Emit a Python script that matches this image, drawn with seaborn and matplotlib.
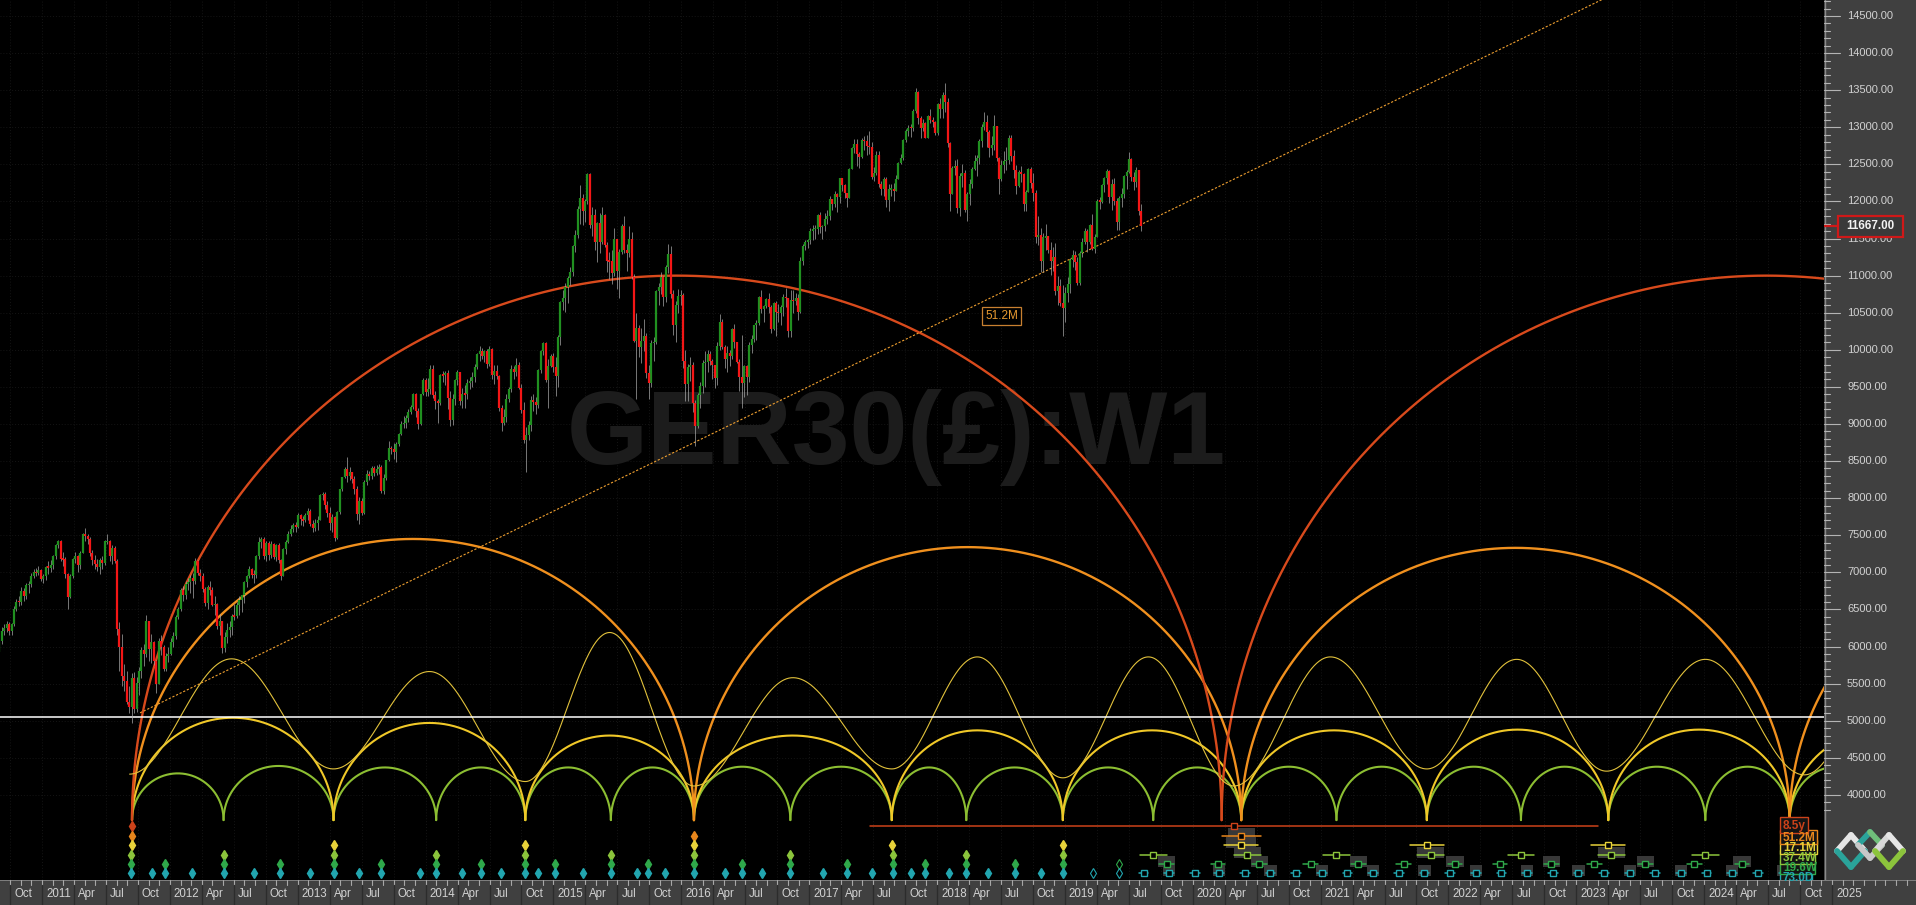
import numpy as np
import pandas as pd
import matplotlib
matplotlib.use("Agg")
import matplotlib.pyplot as plt
import seaborn as sns
from matplotlib.patches import Rectangle

# ---------------- price data (weekly GER30) ----------------
first_week = "2010-08-30"
first_open = 5925
week_close = [
    6080, 6215, 6250, 6299, 6211, 6299, 6511, 6605, 6601, 6754, 6681, 6825, 6849, 6947, 7006, 6990, 7026, 6914,
    6947, 7076, 7063, 7102, 7216, 7371, 7426, 7185, 7178, 6982, 6664, 6946, 7179, 7217, 7095, 7267, 7514, 7492,
    7443, 7264, 7164, 7109, 7070, 7164, 7122, 7419, 7419, 7220, 7325, 7159, 6236, 5997, 5603, 5538, 5246, 5190,
    5574, 5164, 5502, 5675, 5958, 5903, 6346, 5966, 6057, 5800, 5493, 6080, 5987, 5702, 5878, 5898,
    6057, 6143, 6404, 6511, 6766, 6692, 6849, 6864, 6921, 6880, 7157, 6996, 6947, 6775, 6583, 6801, 6762, 6561,
    6579, 6271, 6339, 5978, 6130, 6229, 6263, 6416, 6410, 6557, 6630, 6689, 6865, 6945, 7040, 6971, 6970, 7214,
    7412, 7451, 7216, 7398, 7233, 7380, 7204, 7364, 7163, 6950, 7309, 7405, 7518, 7585, 7636, 7612, 7776,
    7715, 7702, 7769, 7833, 7652, 7593, 7661, 7708, 8044, 8058, 7912, 7795, 7659, 7744, 7459, 7814, 8122, 8279,
    8398, 8305, 8348, 8254, 8127, 7789, 7959, 7806, 8212, 8331, 8300, 8410, 8338, 8391, 8416, 8103, 8275, 8509,
    8675, 8661, 8622, 8725, 8870, 9001, 9010, 9078, 9168, 9225, 9405, 9172, 9006, 9400, 9589, 9435,
    9473, 9742, 9392, 9306, 9289, 9662, 9657, 9692, 9350, 9056, 9342, 9587, 9695, 9315, 9409, 9401, 9556, 9581,
    9630, 9768, 9943, 9987, 9913, 9987, 9815, 10009, 9666, 9720, 9644, 9210, 9010, 9092, 9339, 9470, 9747, 9699,
    9799, 9490, 9195, 8788, 8850, 8988, 9326, 9291, 9252, 9732, 9980, 10087, 9594, 9786, 9922, 9765,
    9648, 10167, 10649, 10694, 10846, 10963, 11050, 11402, 11551, 11901, 12040, 11868, 12001, 12375, 11689, 11811,
    11454, 11710, 11447, 11815, 11413, 11197, 11196, 11040, 11492, 11059, 11316, 11673, 11347, 11309, 11490, 10985,
    10124, 10298, 10038, 10123, 10188, 9688, 9553, 10096, 10104, 10795, 10850, 10988, 10708, 11119, 11293, 10752,
    10340, 10608, 10727, 10743,
    9849, 9545, 9764, 9798, 9286, 8967, 9388, 9513, 9824, 9831, 9950, 9851, 9794, 9622, 10051, 10373, 10039, 9870,
    9952, 9916, 10287, 10103, 9834, 9631, 9558, 9776, 9629, 10066, 10147, 10337, 10367, 10713, 10544, 10588, 10684,
    10573, 10276, 10627, 10511, 10491, 10580, 10711, 10696, 10259, 10668, 10664, 10700, 10513, 11203, 11404, 11450,
    11481,
    11599, 11629, 11630, 11814, 11651, 11666, 11757, 11804, 12027, 11963, 12095, 12064, 12313, 12225, 12109, 12049,
    12438, 12717, 12770, 12638, 12602, 12823, 12816, 12753, 12733, 12325, 12389, 12631, 12240, 12162, 12298, 12014,
    12165, 12168, 12143, 12304, 12519, 12592, 12829, 12955, 12992, 12991, 13218, 13478, 13127, 12994, 13060, 12861,
    13153, 13104, 13072, 12918,
    13320, 13245, 13434, 13340, 12785, 12107, 12452, 12483, 11913, 12346, 12390, 11886, 12097, 12241, 12442, 12540,
    12580, 12820, 13001, 13077, 12938, 12724, 12767, 13011, 12580, 12306, 12496, 12541, 12561, 12860, 12615, 12424,
    12211, 12394, 12364, 11960, 12124, 12431, 12247, 12112, 11524, 11554, 11201, 11519, 11529, 11341, 11193, 11257,
    10788, 10866, 10634, 10559, 10768,
    10887, 11205, 11282, 11181, 10907, 11300, 11458, 11602, 11458, 11686, 11364, 11526, 12010, 11999, 12222, 12315,
    12412, 12060, 12239, 12011, 11727, 12045, 12096, 12340, 12399, 12568, 12323, 12260, 12419, 11872, 11667,
]
week_high = [
    6110, 6260, 6300, 6340, 6330, 6320, 6540, 6640, 6680, 6800, 6790, 6850, 6880, 6990, 7040, 7060, 7080, 7040,
    6980, 7090, 7150, 7170, 7230, 7380, 7440, 7440, 7280, 7210, 6990, 6980, 7190, 7280, 7240, 7290, 7530, 7600,
    7520, 7470, 7300, 7240, 7180, 7190, 7220, 7440, 7520, 7440, 7370, 7360, 7180, 6330, 6170, 5760, 5670, 5470,
    5640, 5660, 5590, 5720, 6000, 6040, 6430, 6350, 6170, 6080, 5820, 6120, 6150, 6020, 5910, 6000,
    6110, 6190, 6420, 6530, 6790, 6820, 6890, 6930, 6960, 6990, 7190, 7170, 7040, 6990, 6800, 6830, 6880, 6800,
    6680, 6590, 6440, 6350, 6200, 6320, 6340, 6440, 6580, 6600, 6680, 6700, 6890, 6960, 7080, 7060, 7030, 7240,
    7480, 7480, 7480, 7420, 7420, 7420, 7400, 7380, 7390, 7180, 7330, 7440, 7560, 7640, 7670, 7680, 7800,
    7780, 7760, 7800, 7870, 7860, 7700, 7720, 7760, 8060, 8080, 8080, 7960, 7880, 7780, 7760, 7830, 8130, 8290,
    8420, 8560, 8420, 8350, 8300, 8160, 8010, 8000, 8240, 8380, 8360, 8440, 8440, 8450, 8460, 8450, 8330, 8520,
    8770, 8700, 8740, 8760, 8880, 9040, 9110, 9120, 9200, 9250, 9420, 9420, 9220, 9410, 9620, 9620,
    9620, 9790, 9800, 9440, 9340, 9680, 9720, 9720, 9730, 9450, 9400, 9600, 9730, 9700, 9480, 9530, 9600, 9640,
    9700, 9810, 9960, 10050, 10020, 10000, 10010, 10050, 10030, 9790, 9800, 9660, 9250, 9200, 9400, 9500, 9800, 9780,
    9890, 9840, 9540, 9300, 8960, 9040, 9380, 9400, 9370, 9740, 10000, 10100, 10100, 9870, 9950, 9960,
    9900, 10200, 10660, 10800, 10900, 11000, 11120, 11410, 11610, 11940, 12220, 12100, 12030, 12390, 12380, 11920,
    11900, 11720, 11850, 11920, 11830, 11460, 11320, 11340, 11640, 11500, 11360, 11700, 11810, 11420, 11670, 11590,
    11020, 10490, 10340, 10300, 10420, 10220, 9800, 10130, 10170, 10810, 10900, 11050, 11000, 11140, 11420, 11400,
    10800, 10660, 10820, 10800,
    10760, 10000, 9810, 9900, 9830, 9320, 9420, 9560, 9860, 9990, 10000, 9990, 9880, 9800, 10100, 10480, 10420, 10060,
    10050, 10000, 10300, 10350, 10110, 9870, 10200, 9800, 9790, 10100, 10200, 10340, 10400, 10720, 10800, 10600, 10700,
    10760, 10600, 10650, 10660, 10620, 10600, 10750, 10830, 10700, 10800, 10800, 10760, 10750, 11250, 11430, 11480,
    11500,
    11640, 11680, 11680, 11830, 11860, 11680, 11840, 11880, 12080, 12030, 12140, 12120, 12320, 12320, 12240, 12120,
    12450, 12740, 12840, 12840, 12660, 12860, 12880, 12890, 12950, 12800, 12470, 12680, 12680, 12280, 12330, 12330,
    12240, 12240, 12250, 12360, 12530, 12640, 12840, 12980, 13030, 13040, 13240, 13530, 13490, 13150, 13110, 13070,
    13170, 13250, 13140, 13080,
    13330, 13390, 13480, 13600, 13390, 12800, 12480, 12560, 12570, 12390, 12500, 12420, 12130, 12300, 12460, 12620,
    12620, 12840, 13040, 13200, 13170, 12960, 12880, 13170, 13020, 12600, 12560, 12680, 12740, 12890, 12900, 12700,
    12490, 12430, 12480, 12380, 12160, 12450, 12460, 12390, 12150, 11800, 11640, 11580, 11700, 11540, 11460, 11380,
    11440, 10990, 10960, 10880, 10840,
    10980, 11240, 11340, 11330, 11250, 11330, 11510, 11640, 11630, 11700, 11830, 11560, 12030, 12060, 12240, 12330,
    12440, 12420, 12300, 12310, 12050, 12070, 12180, 12360, 12420, 12660, 12580, 12400, 12470, 12430, 11960,
]
week_low = [
    5910, 6040, 6160, 6200, 6160, 6150, 6280, 6480, 6540, 6560, 6610, 6640, 6720, 6800, 6920, 6950, 6970, 6880,
    6860, 6900, 6980, 7000, 7050, 7180, 7330, 7150, 7080, 6930, 6510, 6650, 6920, 7120, 7000, 7050, 7260, 7420,
    7380, 7220, 7100, 7050, 7020, 6980, 7040, 7100, 7380, 7150, 7110, 7120, 6150, 5670, 5470, 5400, 5220, 5100,
    4965, 5100, 5120, 5340, 5570, 5740, 5860, 5810, 5780, 5750, 5370, 5500, 5890, 5670, 5670, 5790,
    5880, 5990, 6100, 6370, 6480, 6620, 6640, 6760, 6720, 6650, 6840, 6960, 6880, 6730, 6540, 6510, 6700, 6540,
    6430, 6230, 6160, 5910, 5920, 6050, 6130, 6150, 6360, 6380, 6420, 6460, 6590, 6800, 6920, 6930, 6850, 6930,
    7180, 7330, 7180, 7150, 7160, 7200, 7180, 7150, 7120, 6900, 6950, 7250, 7390, 7490, 7550, 7540, 7600,
    7640, 7630, 7680, 7700, 7620, 7550, 7560, 7570, 7700, 7980, 7860, 7750, 7570, 7540, 7420, 7450, 7790, 8100,
    8270, 8220, 8240, 8200, 8050, 7700, 7650, 7770, 7780, 8180, 8240, 8260, 8300, 8310, 8330, 8070, 8060, 8250,
    8500, 8590, 8530, 8490, 8700, 8850, 8940, 8950, 9030, 9140, 9200, 9100, 8930, 8990, 9390, 9380,
    9380, 9400, 9350, 9200, 9010, 9260, 9560, 9530, 9200, 8970, 8980, 9250, 9520, 9260, 9210, 9220, 9340, 9470,
    9500, 9560, 9740, 9850, 9870, 9840, 9760, 9780, 9610, 9540, 9600, 9170, 8900, 8980, 9030, 9290, 9430, 9600,
    9650, 9470, 9150, 8740, 8355, 8790, 8900, 9180, 9130, 9220, 9690, 9930, 9560, 9220, 9770, 9700,
    9380, 9500, 10070, 10530, 10510, 10630, 10880, 11000, 11320, 11510, 11700, 11680, 11720, 11960, 11640, 11540,
    11350, 11180, 11310, 11420, 11380, 11050, 10950, 10890, 11000, 10820, 10700, 11290, 11300, 11060, 11250, 10950,
    10100, 9340, 9900, 9820, 9990, 9620, 9340, 9500, 9850, 10080, 10600, 10750, 10590, 10650, 11030, 10700,
    10200, 10100, 10500, 10600,
    9760, 9310, 9310, 9580, 9160, 8700, 8950, 9210, 9420, 9500, 9700, 9790, 9600, 9480, 9520, 10000, 10010, 9760,
    9700, 9780, 9880, 10030, 9820, 9440, 9220, 9370, 9390, 9570, 9960, 10110, 10130, 10330, 10500, 10380, 10560,
    10500, 10230, 10270, 10180, 10380, 10330, 10450, 10580, 10170, 10170, 10500, 10600, 10400, 10500, 11150, 11350,
    11370,
    11420, 11480, 11500, 11560, 11580, 11490, 11600, 11700, 11750, 11880, 11930, 11860, 11980, 12140, 12050, 11930,
    12090, 12450, 12650, 12480, 12450, 12580, 12690, 12630, 12640, 12300, 12280, 12360, 12190, 12090, 12080, 11930,
    11870, 12080, 12000, 12140, 12300, 12500, 12560, 12800, 12880, 12870, 12950, 13190, 13050, 12850, 12950, 12850,
    12880, 13060, 13000, 12890,
    12900, 13130, 13120, 13200, 12730, 11870, 12100, 12350, 11850, 11800, 12200, 11860, 11730, 11950, 12180, 12430,
    12340, 12500, 12740, 12960, 12730, 12600, 12620, 12700, 12540, 12100, 12280, 12390, 12420, 12500, 12550, 12310,
    12100, 12190, 12260, 11870, 11870, 12130, 12180, 12000, 11440, 11410, 11050, 11050, 11350, 11300, 11010, 11060,
    10740, 10610, 10590, 10180, 10380,
    10640, 10760, 11110, 11080, 10870, 10880, 11250, 11430, 11320, 11420, 11340, 11300, 11540, 11900, 11980, 12130,
    12230, 11980, 11890, 11950, 11620, 11620, 11920, 12050, 12170, 12390, 12280, 12150, 12200, 11820, 11600,
]
last_price = 11667
support_price = 5050

# ---------------- cycle envelopes (decimal years / prices) ----------------
arc_base = 3660
troughs_85y = [2011.704, 2020.226, 2028.750]
peaks_85y = [11000, 11000]
troughs_512m = [2011.704, 2016.099, 2020.379, 2024.669, 2028.940]
peaks_512m = [7450, 7340, 7330, 7330]
troughs_171m = [2011.704, 2013.280, 2014.780, 2016.099, 2017.646, 2018.984, 2020.379, 2021.831, 2023.250,
                2024.669, 2026.090]
peaks_171m = [5040, 4970, 4800, 4800, 4870, 4870, 4870, 4880, 4880, 4870]
troughs_374w = [2011.704, 2012.420, 2013.280, 2014.083, 2014.780, 2015.449, 2016.099, 2016.853, 2017.646,
                2018.229, 2018.984, 2019.691, 2020.379, 2021.124, 2021.831, 2022.567, 2023.250, 2024.009,
                2024.669, 2025.400]
peaks_374w = [4290, 4390, 4370, 4370, 4370, 4370, 4380, 4380, 4370, 4370, 4370, 4370, 4380, 4380, 4380, 4380,
              4380, 4380, 4380]
wave_troughs = [2011.685, 2013.280, 2014.780, 2016.099, 2017.646, 2018.984, 2020.322, 2021.831, 2023.236,
                2024.783, 2026.200]
wave_levels = [4280, 4350, 4180, 4120, 4350, 4230, 4120, 4350, 4320, 4270, 4300]
wave_peaks = [5834, 5663, 6189, 5580, 5860, 5860, 5860, 5827, 5827, 5830]
trend_years = [2011.767, 2016.099]
trend_prices = [5106, 8749]
trend_label = "51.2M"
trend_label_at = (2018.504, 10456)

# ---------------- trough markers ----------------
cycle_names = ["8.5y", "51.2M", "17.1M", "37.4W", "19.6W", "73.0D"]
past_troughs = [
    [2011.704],
    [2011.704, 2016.099],
    [2011.704, 2013.280, 2014.780, 2016.099, 2017.646, 2018.984],
    [2011.694, 2012.420, 2013.280, 2014.083, 2014.780, 2015.449, 2016.099, 2016.853, 2017.656, 2018.229, 2018.984],
    [2011.694, 2011.962, 2012.420, 2012.860, 2013.280, 2013.653, 2014.083, 2014.436, 2014.780, 2015.010, 2015.449,
     2015.736, 2016.099, 2016.471, 2016.853, 2017.293, 2017.656, 2017.904, 2018.229, 2018.611, 2018.984],
    [2011.694, 2011.857, 2011.962, 2012.172, 2012.420, 2012.659, 2012.860, 2013.099, 2013.280, 2013.481, 2013.653,
     2013.959, 2014.083, 2014.283, 2014.436, 2014.589, 2014.780, 2014.876, 2015.010, 2015.229, 2015.449, 2015.650,
     2015.736, 2015.869, 2016.099, 2016.338, 2016.471, 2016.634, 2016.853, 2017.111, 2017.293, 2017.494, 2017.656,
     2017.799, 2017.904, 2018.095, 2018.229, 2018.401, 2018.611, 2018.812, 2018.984],
]
pending_troughs = [[], [], [], [], [2019.424], [2019.223, 2019.424]]
future_troughs = [
    [2020.322],
    [2020.379],
    [2020.379, 2021.831, 2023.250],
    [2019.691, 2020.427, 2021.124, 2021.860, 2022.567, 2023.274, 2024.009],
    [2019.796, 2020.197, 2020.522, 2020.923, 2021.296, 2021.649, 2022.051, 2022.404, 2022.805, 2023.140,
     2023.541, 2023.923, 2024.296],
    [2019.615, 2019.815, 2020.016, 2020.207, 2020.408, 2020.608, 2020.809, 2021.010, 2021.210, 2021.411,
     2021.612, 2021.812, 2022.013, 2022.213, 2022.414, 2022.615, 2022.815, 2023.016, 2023.216, 2023.417,
     2023.618, 2023.818, 2024.019, 2024.220, 2024.420, 2024.621],
]
zone_troughs = [
    [],
    [2020.379],
    [2020.379],
    [2020.427, 2021.860, 2023.274],
    [2019.796, 2020.522, 2021.296, 2022.051, 2022.805, 2023.541, 2024.296],
    [2019.815, 2020.207, 2020.608, 2021.010, 2021.411, 2021.812, 2022.213, 2022.615, 2023.016, 2023.417,
     2023.818, 2024.220, 2024.621],
]

# ---------------- styles ----------------
W, H = 1916, 905
PR, PB = 1824, 880            # plot right edge / plot bottom (px)
PX_YR, X2011 = 127.86, 42     # px per year, px of 2011-01-01
PX_PRICE = 0.07418            # px per price point
X0 = 2011 - X2011 / PX_YR
X1 = 2011 + (PR - X2011) / PX_YR
XB1 = 2011 + (W - X2011) / PX_YR
Y1 = 14500 + 16 / PX_PRICE
Y0 = 14500 - (PB - 16) / PX_PRICE

C_RED, C_ORA, C_YEL, C_GRN = "#d84a1c", "#f0901e", "#f0c828", "#8cbe32"
cycle_colors = ["#cc421a", "#e8861c", "#e8d23a", "#8cc43c", "#2fa84a", "#22a6b0"]
row_px = [826, 835.5, 845, 854.5, 864, 873]
half_w = [2.847, 0.153, 0.134, 0.105, 0.057, 0.038]
zone_w = [0.0, 0.21, 0.23, 0.21, 0.134, 0.096]
PANEL = "#404040"

sns.set_theme(style="dark")
plt.rcParams["font.family"] = ["Liberation Sans", "DejaVu Sans"]

fig = plt.figure(figsize=(W / 100, H / 100), dpi=100, facecolor=PANEL)
ax = fig.add_axes([0, (H - PB) / H, PR / W, PB / H])
ax_r = fig.add_axes([PR / W, (H - PB) / H, (W - PR) / W, PB / H])
ax_b = fig.add_axes([0, 0, 1, (H - PB) / H])
ax_o = fig.add_axes([0, 0, 1, 1], zorder=20)
ax_o.set_xlim(0, W); ax_o.set_ylim(H, 0); ax_o.axis("off"); ax_o.patch.set_alpha(0)

ax.set_facecolor("black")
for a in (ax, ax_r, ax_b):
    for s in a.spines.values():
        s.set_visible(False)
    a.set_xticks([]); a.set_yticks([])
    a.grid(False)

# grid
for yv in range(4000, 15000, 500):
    ax.axhline(yv, color="#151515", lw=0.7, ls=(0, (1, 2)), zorder=0.3)
for yr in range(2010, 2025):
    for m in (0, 0.25, 0.5, 0.75):
        ax.axvline(yr + m, color="#151515", lw=0.7, ls=(0, (1, 2)), zorder=0.3)

# watermark
ax.text(896 / PR, 1 - 464 / PB, "GER30(£):W1", transform=ax.transAxes, ha="center", va="baseline",
        fontsize=75, fontweight="bold", color="#1c1c1c", zorder=0.8)


def arc_df(troughs, peaks, base):
    theta = np.linspace(0, np.pi, 361)
    u = -np.cos(theta)
    parts = []
    for i, p in enumerate(peaks):
        c, a = (troughs[i] + troughs[i + 1]) / 2, (troughs[i + 1] - troughs[i]) / 2
        parts.append(pd.DataFrame({"t": c + a * u,
                                   "price": base + (p - base) * np.sqrt(np.clip(1 - u * u, 0, None)),
                                   "arc": i}))
    return pd.concat(parts, ignore_index=True)


def wave_df(troughs, levels, peaks):
    s = np.linspace(0, 1, 120)
    ts, ys = [], []
    for i, p in enumerate(peaks):
        t0, t1 = troughs[i], troughs[i + 1]
        m = (t0 + t1) / 2
        ts += list(t0 + (m - t0) * s) + list(m + (t1 - m) * s)
        ys += list(levels[i] + (p - levels[i]) * (1 - np.cos(np.pi * s)) / 2)
        ys += list(p + (levels[i + 1] - p) * (1 - np.cos(np.pi * s)) / 2)
    return pd.DataFrame({"t": ts, "price": ys, "arc": 0})


for trs, pks, col, lw in [(troughs_374w, peaks_374w, C_GRN, 1.5),
                          (troughs_171m, peaks_171m, C_YEL, 1.5),
                          (troughs_512m, peaks_512m, C_ORA, 1.7),
                          (troughs_85y, peaks_85y, C_RED, 1.7)]:
    sns.lineplot(data=arc_df(trs, pks, arc_base), x="t", y="price", units="arc", estimator=None,
                 sort=False, color=col, linewidth=lw, ax=ax, legend=False, zorder=2)
sns.lineplot(data=wave_df(wave_troughs, wave_levels, wave_peaks), x="t", y="price", units="arc",
             estimator=None, sort=False, color="#e2c23c", linewidth=0.8, ax=ax, legend=False, zorder=2.1)

# trend line (extended to the right)
slope = (trend_prices[1] - trend_prices[0]) / (trend_years[1] - trend_years[0])
t_end = X1 + 0.5
trend = pd.DataFrame({"t": [trend_years[0], t_end],
                      "price": [trend_prices[0], trend_prices[0] + slope * (t_end - trend_years[0])]})
sns.lineplot(data=trend, x="t", y="price", color="#f0a030", linewidth=0.8, ax=ax, legend=False,
             linestyle=(0, (2.0, 1.6)), zorder=2.5)
ax.text(trend_label_at[0], trend_label_at[1], trend_label, color="#e89a30", fontsize=8.5, ha="center",
        va="center", zorder=5,
        bbox=dict(boxstyle="square,pad=0.25", fc="black", ec="#c88030", lw=0.9))

# support line
ax.axhline(support_price, color="white", lw=1.1, zorder=2.6)

# candles
n = len(week_close)
dates = pd.date_range(first_week, periods=n, freq="7D") + pd.Timedelta(days=2)
xs = np.asarray(dates.year + (dates.dayofyear - 1) / np.where(dates.is_leap_year, 366, 365), dtype=float)
c = np.array(week_close, dtype=float)
o = np.concatenate([[first_open], c[:-1]])
hi = np.maximum(np.array(week_high, float), np.maximum(o, c))
lo = np.minimum(np.array(week_low, float), np.minimum(o, c))
bull = c >= o
ax.vlines(xs, lo, hi, color="#a8a8a8", lw=0.5, zorder=3)
btop = np.maximum(o, c); bbot = np.minimum(o, c)
small = (btop - bbot) < 14
btop = np.where(small, btop + 7, btop); bbot = np.where(small, bbot - 7, bbot)
ax.vlines(xs[bull], bbot[bull], btop[bull], color="#209020", lw=1.6, zorder=3.1)
ax.vlines(xs[~bull], bbot[~bull], btop[~bull], color="#f41616", lw=1.6, zorder=3.1)

# trough markers / projections
tr = ax.get_xaxis_transform()
for k in range(6):
    yk = 1 - row_px[k] / PB
    col = cycle_colors[k]
    for zt in zone_troughs[k]:
        ax.add_patch(Rectangle((zt - zone_w[k] / 2, 1 - (row_px[k] + 3) / PB), zone_w[k], 11 / PB,
                               transform=tr, fc="#383838", ec="none", zorder=3.5))
    for ft in future_troughs[k]:
        ax.plot([ft - half_w[k], ft + half_w[k]], [yk, yk], transform=tr, color=col, lw=1.1, zorder=4)
        ax.plot([ft], [yk], transform=tr, marker="s", ms=4.0, mfc="black", mec=col, mew=1.0, zorder=4.1)
    if past_troughs[k]:
        ax.plot(past_troughs[k], [yk] * len(past_troughs[k]), transform=tr, ls="none", marker="d", ms=5.6,
                mfc=col, mec=col, zorder=4)
    if pending_troughs[k]:
        ax.plot(pending_troughs[k], [yk] * len(pending_troughs[k]), transform=tr, ls="none", marker="d",
                ms=5.6, mfc="none", mec=col, mew=0.8, zorder=4)

ax.set_xlim(X0, X1)
ax.set_ylim(Y0, Y1)
ax.set_xlabel(""); ax.set_ylabel("")

# ---------------- right price axis ----------------
ax_r.set_facecolor(PANEL)
ax_r.set_xlim(0, W - PR)
ax_r.set_ylim(Y0, Y1)
ax_r.axvline(0.5, color="#8a8a8a", lw=1)
for pv in range(3800, 14800, 100):
    major = pv % 500 == 0
    ax_r.plot([0, 16 if major else 6], [pv, pv], color="#b4b4b4", lw=0.8)
    if major and pv >= 4000:
        ax_r.text(23, pv, f"{pv:.2f}", color="#d2d2d2", fontsize=8, ha="left", va="center")
hb = 10.5 / PX_PRICE
ax_r.plot([0, 14], [last_price, last_price], color="#d01818", lw=1.6)
ax_r.add_patch(Rectangle((14, last_price - hb), 65, 2 * hb, fc="#3a3a3a", ec="#d01818", lw=1.6, zorder=5))
ax_r.text(46.5, last_price, f"{last_price:.2f}", color="#f2f2f2", fontsize=8.4, fontweight="bold",
          ha="center", va="center", zorder=6)

# ---------------- bottom time axis ----------------
ax_b.set_facecolor(PANEL)
ax_b.set_xlim(X0, XB1)
ax_b.set_ylim(0, 1)
ax_b.axhline(1, color="#8a8a8a", lw=1.2)
mon = ["Jan", "Feb", "Mar", "Apr", "May", "Jun", "Jul", "Aug", "Sep", "Oct", "Nov", "Dec"]
for yr in range(2010, 2026):
    for mi in range(12):
        t = yr + mi / 12
        if t < X0 or t > XB1:
            continue
        ax_b.plot([t, t], [1, 0.8], color="#a8a8a8", lw=0.8)
        if mi % 3 == 0 and t <= 2025.01:
            ax_b.plot([t, t], [0.8, 0], color="#2c2c2c", lw=1.0)
            lab = str(yr) if mi == 0 else mon[mi]
            ax_b.text(t + 4 / PX_YR, 0.45, lab, color="#d2d2d2", fontsize=8.3, ha="left", va="center")

# ---------------- legend boxes (bottom right of plot) ----------------
leg = [("8.5y", 817, 833, 1808), ("51.2M", 830, 844, 1817), ("17.1M", 840, 854, 1817),
       ("37.4W", 850, 864, 1815), ("19.6W", 860, 874, 1815), ("73.0D", 870, 884, 1812)]
clip = Rectangle((0, 0), PR, PB, transform=ax_o.transData, visible=False)
ax_o.add_patch(clip)
for k in range(5, -1, -1):
    name, y0, y1, x1 = leg[k]
    r = Rectangle((1780, y0), x1 - 1780, y1 - y0, fc="#141414", ec=cycle_colors[k], lw=1.0, zorder=21)
    ax_o.add_patch(r); r.set_clip_path(clip)
    t = ax_o.text(1783, (y0 + y1) / 2 + 0.5, name, color=cycle_colors[k], fontsize=8.5, fontweight="bold",
                  ha="left", va="center", zorder=22)
    t.set_clip_path(clip)

# ---------------- logo ----------------
def diamond(cx, cy, rx, ry, cols):
    pts = [(cx - rx, cy), (cx, cy - ry), (cx + rx, cy), (cx, cy + ry), (cx - rx, cy)]
    for i in range(4):
        ax_o.plot([pts[i][0], pts[i + 1][0]], [pts[i][1], pts[i + 1][1]], color=cols[i], lw=4.2,
                  solid_capstyle="round", zorder=25)

diamond(1851, 851, 14, 16, ["#e6e6e6", "#e6e6e6", "#2aa39a", "#2aa39a"])
diamond(1870, 845, 12, 13, ["#2aa39a", "#6fbf7a", "#c8c8c8", "#c8c8c8"])
diamond(1889, 851, 14, 16, ["#d8d8d8", "#e6e6e6", "#8cc43c", "#8cc43c"])

fig.savefig("out.png", dpi=100, facecolor=fig.get_facecolor())
